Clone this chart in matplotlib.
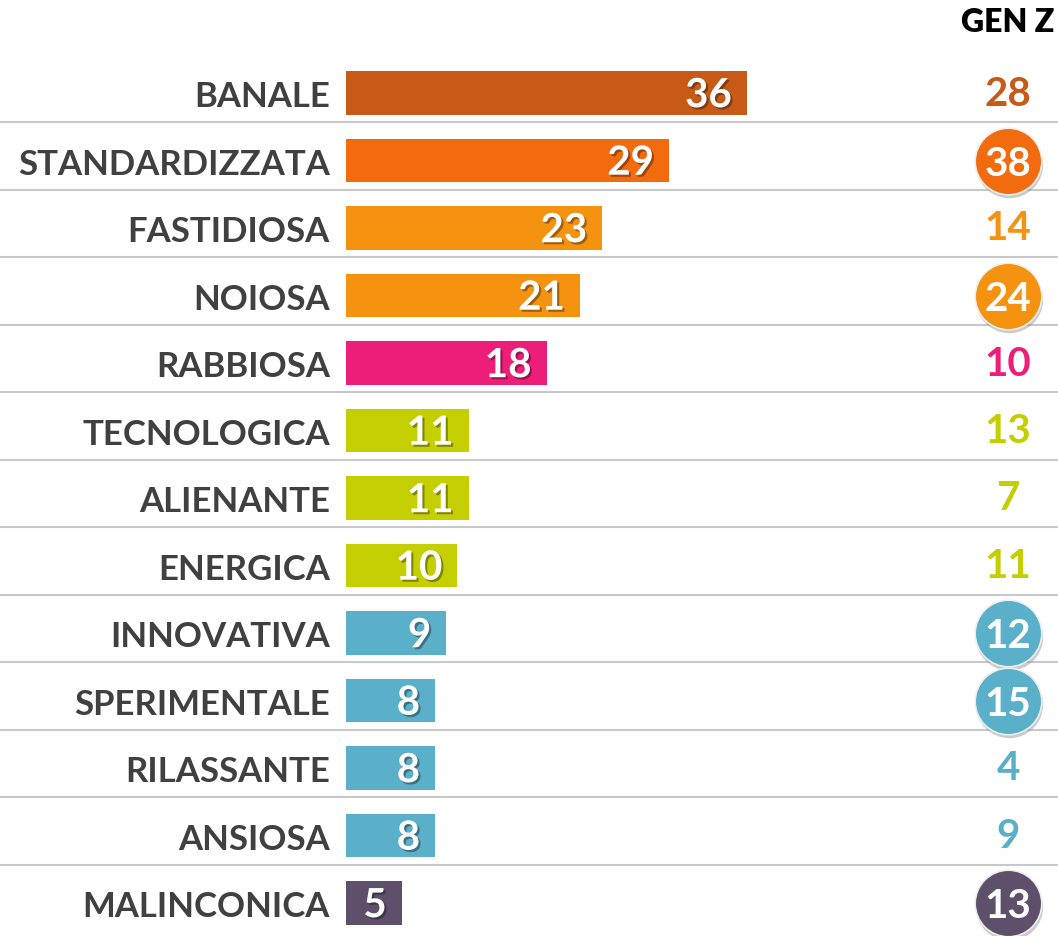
import matplotlib
matplotlib.use('Agg')
import matplotlib.pyplot as plt
import matplotlib.patheffects as pe

plt.rcParams['font.family'] = ['Lato', 'DejaVu Sans']

labels = ['BANALE', 'STANDARDIZZATA', 'FASTIDIOSA', 'NOIOSA', 'RABBIOSA',
          'TECNOLOGICA', 'ALIENANTE', 'ENERGICA', 'INNOVATIVA', 'SPERIMENTALE',
          'RILASSANTE', 'ANSIOSA', 'MALINCONICA']
totale = [36, 29, 23, 21, 18, 11, 11, 10, 9, 8, 8, 8, 5]
genz = [28, 38, 14, 24, 10, 13, 7, 11, 12, 15, 4, 9, 13]
genz_circled = [False, True, False, True, False, False, False, False, True, True, False, False, True]
colors = ['#C85A18', '#F26C0F', '#F5920F', '#F5920F', '#EC1E79',
          '#C4CE00', '#C4CE00', '#C4CE00', '#5AAFC9', '#5AAFC9',
          '#5AAFC9', '#5AAFC9', '#5E506A']

W, H = 1058, 937
fig = plt.figure(figsize=(W / 100, H / 100), dpi=100)
ax = fig.add_axes([0, 0, 1, 1])
ax.axis('off')

# x: 0 at pixel 346, ~11.14 px per unit ; y: row i at pixel 94 + 67.5*i
px = 401 / 36
x0 = 346
ax.set_xlim(-x0 / px, (W - x0) / px)
ax.set_ylim((H - 94) / 67.5, -94 / 67.5)

rows = range(len(labels))
ax.barh(list(rows), totale, height=0.65, color=colors, zorder=2)

shadow = [pe.withSimplePatchShadow(offset=(1.5, -1.5), shadow_rgbFace='black', alpha=0.35)]
xgen = (1008 - x0) / px

for i in rows:
    ax.text(-16 / px, i + 0.05, labels[i], ha='right', va='center', fontsize=25,
            fontweight='bold', color='#404040')
    ax.text(totale[i] - 15 / px, i + 0.04, str(totale[i]), ha='right', va='center',
            fontsize=29, fontweight='bold', color='white', path_effects=shadow, zorder=3)
    if i < len(labels) - 1:
        ax.axhline(i + 0.43, color='#C8C8C8', lw=1.5, zorder=1)
    if genz_circled[i]:
        ax.scatter([xgen + 1.5 / px], [i + 0.06], s=2350, color='#999999', alpha=0.5,
                   edgecolors='none', zorder=3)
        ax.scatter([xgen], [i], s=2300, color=colors[i], edgecolors='#EEEEEE',
                   linewidths=1.2, zorder=4)
        ax.text(xgen, i + 0.04, str(genz[i]), ha='center', va='center', fontsize=29,
                fontweight='bold', color='white', zorder=5)
    else:
        ax.text(xgen, i + 0.0, str(genz[i]), ha='center', va='center', fontsize=29,
                fontweight='bold', color=colors[i], zorder=5)

ax.text(xgen, -71 / 67.5, 'GEN Z', ha='center', va='center', fontsize=23,
        fontweight='heavy', color='black')

fig.savefig('out.png', dpi=100)
